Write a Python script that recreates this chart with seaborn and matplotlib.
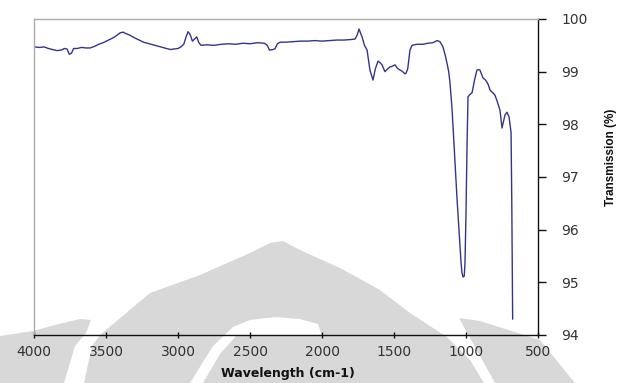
import matplotlib
matplotlib.use("Agg")
import matplotlib.pyplot as plt
from matplotlib.patches import Polygon
import numpy as np
import pandas as pd
import seaborn as sns

# FTIR spectrum: wavenumber (cm-1) and transmission (%)
wavenumber = [
    4000, 3960, 3930, 3900, 3870, 3840, 3810, 3790, 3770, 3755, 3740, 3725,
    3700, 3670, 3640, 3610, 3580, 3550, 3520, 3490, 3460, 3440, 3420, 3400,
    3380, 3360, 3340, 3320, 3300, 3270, 3240, 3200, 3160, 3120, 3080, 3050,
    3030, 3000, 2980, 2960, 2945, 2930, 2915, 2900, 2885, 2870, 2855, 2840,
    2800, 2750, 2700, 2650, 2600, 2550, 2500, 2450, 2400, 2380, 2365, 2340,
    2325, 2310, 2290, 2250, 2200, 2150, 2100, 2050, 2000, 1950, 1900, 1850,
    1800, 1770, 1755, 1743, 1730, 1722, 1705, 1687, 1667, 1646, 1630, 1611,
    1597, 1583, 1563, 1545, 1528, 1514, 1493, 1475, 1458, 1444, 1424, 1417,
    1405, 1389, 1375, 1340, 1299, 1265, 1229, 1201, 1181, 1160, 1145, 1132,
    1120, 1111, 1097, 1085, 1063, 1049, 1035, 1028, 1020, 1012, 1007, 1000,
    993, 986, 975, 958, 940, 924, 912, 903, 892, 882, 868, 854, 845, 833,
    815, 800, 785, 764, 750, 740, 729, 715, 701, 687, 682, 676,
]
transmission = [
    99.47, 99.46, 99.47, 99.44, 99.42, 99.40, 99.41, 99.44, 99.43, 99.33, 99.35, 99.44,
    99.44, 99.46, 99.45, 99.45, 99.48, 99.52, 99.55, 99.59, 99.63, 99.66, 99.70, 99.74,
    99.75, 99.72, 99.70, 99.67, 99.64, 99.60, 99.56, 99.53, 99.50, 99.47, 99.44, 99.42,
    99.43, 99.44, 99.47, 99.52, 99.65, 99.76, 99.70, 99.58, 99.62, 99.66, 99.55, 99.50,
    99.51, 99.50, 99.52, 99.53, 99.52, 99.54, 99.53, 99.55, 99.54, 99.50, 99.41, 99.42,
    99.44, 99.53, 99.56, 99.56, 99.57, 99.58, 99.58, 99.59, 99.58, 99.59, 99.60, 99.60,
    99.61, 99.62, 99.70, 99.81, 99.72, 99.66, 99.50, 99.41, 99.03, 98.84, 99.05, 99.20,
    99.17, 99.13, 99.00, 99.05, 99.09, 99.10, 99.13, 99.06, 99.03, 99.01, 98.96, 98.97,
    99.05, 99.41, 99.50, 99.52, 99.52, 99.54, 99.55, 99.59, 99.57, 99.47, 99.32, 99.16,
    99.00, 98.78, 98.30, 97.70, 96.62, 96.00, 95.40, 95.18, 95.10, 95.12, 95.37, 96.30,
    97.57, 98.52, 98.56, 98.60, 98.85, 99.03, 99.04, 99.03, 98.95, 98.88, 98.85, 98.80,
    98.75, 98.65, 98.60, 98.56, 98.45, 98.27, 97.93, 98.05, 98.18, 98.23, 98.14, 97.84,
    96.50, 94.30,
]

x_ticks = [4000, 3500, 3000, 2500, 2000, 1500, 1000, 500]
y_ticks = [94, 95, 96, 97, 98, 99, 100]

sns.set_theme(style="white")
plt.rcParams["font.family"] = ["DejaVu Sans"]

W, H = 627, 383
fig = plt.figure(figsize=(W / 100, H / 100), dpi=100)
fig.patch.set_facecolor("white")


def to_fig(points):
    return [(px / W, 1 - py / H) for px, py in points]


# faint grey emblem behind the plot
grey = "#d8d8d8"
shapes = [
    ([(0, 336), (33, 331), (55, 325), (80, 319), (91, 320), (86, 333), (75, 346),
      (64, 383), (0, 383)], grey),
    ([(84, 383), (92, 346), (100, 335), (125, 314), (150, 293), (200, 275),
      (250, 253), (270, 243), (283, 241), (300, 250), (340, 268), (380, 290),
      (410, 313), (447, 337), (470, 360), (484, 383)], grey),
    ([(190, 383), (203, 383), (220, 354), (236, 336), (322, 336),
      (318, 324), (300, 319), (275, 317), (250, 320), (233, 327), (213, 346)],
     "white"),
    ([(459, 318), (480, 321), (540, 340), (575, 383), (495, 383)], grey),
]
for pts, col in shapes:
    fig.add_artist(Polygon(to_fig(pts), closed=True, facecolor=col,
                           edgecolor="none", transform=fig.transFigure, zorder=-5))

ax = fig.add_axes([34 / W, 1 - 335 / H, (538 - 34) / W, (335 - 19) / H])
ax.set_facecolor("none")

df = pd.DataFrame({"wavenumber": wavenumber, "transmission": transmission})
sns.lineplot(data=df, x="wavenumber", y="transmission", ax=ax, estimator=None,
             sort=False, color="#34348f", linewidth=1.0)

ax.set_xlim(4000, 500)
ax.set_ylim(94, 100)
ax.set_xticks(x_ticks)
ax.set_yticks(y_ticks)
ax.yaxis.tick_right()
ax.yaxis.set_label_position("right")

for side, col in [("left", "#aaaaaa"), ("top", "#aaaaaa"),
                  ("right", "#111111"), ("bottom", "#111111")]:
    ax.spines[side].set_visible(True)
    ax.spines[side].set_color(col)
    ax.spines[side].set_linewidth(1.0)

ax.tick_params(axis="x", bottom=True, direction="inout", length=5, width=1,
               color="#111111", labelsize=10, labelcolor="#333333", pad=5)
ax.tick_params(axis="y", right=True, left=False, direction="out", length=6,
               width=1, color="#111111", labelsize=10, labelcolor="#333333", pad=11)

ax.set_xlabel("Wavelength (cm-1)", fontsize=9, fontweight="bold", color="#111111")
ax.xaxis.set_label_coords((288 - 34) / (538 - 34), -(373 - 335) / (335 - 19),
                          transform=ax.transAxes)
ax.set_ylabel("Transmission (%)", fontsize=8.5, fontweight="bold", color="#111111",
              family=["Liberation Sans", "DejaVu Sans"], rotation=90)
ax.yaxis.set_label_coords((611 - 34) / (538 - 34), (335 - 157) / (335 - 19),
                          transform=ax.transAxes)
ax.yaxis.label.set_verticalalignment("center")
ax.yaxis.label.set_horizontalalignment("center")
ax.xaxis.label.set_verticalalignment("center")

ax.grid(False)
fig.savefig("out.png", dpi=100, facecolor="white")
